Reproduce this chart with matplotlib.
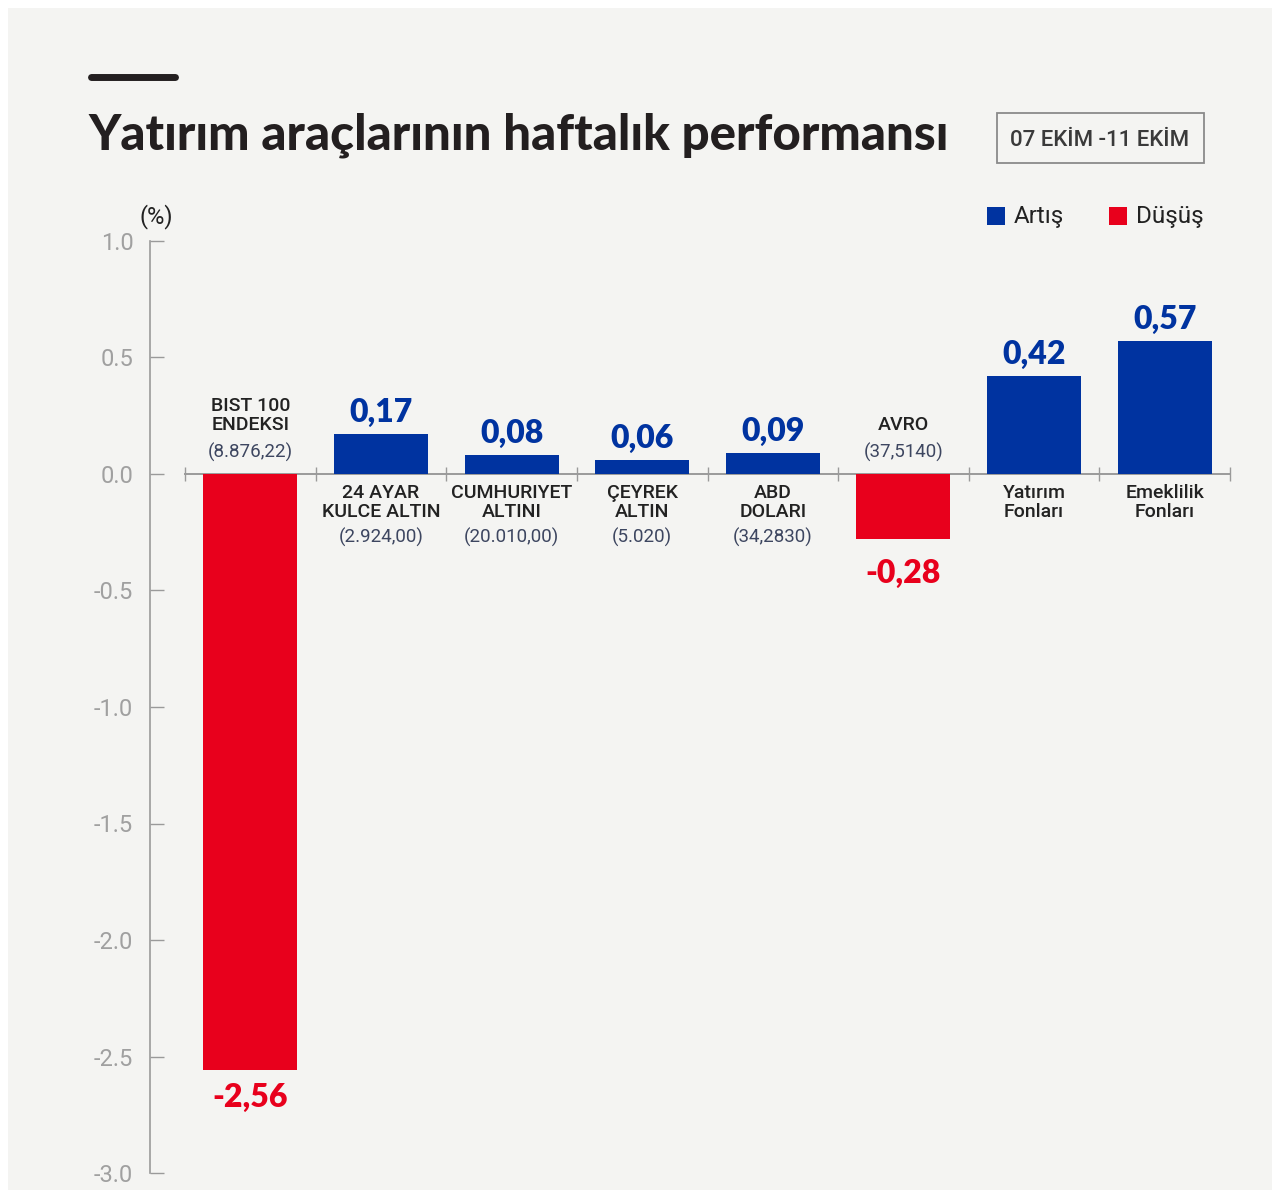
import numpy as np
import matplotlib.pyplot as plt
from matplotlib.patches import Rectangle
from matplotlib.lines import Line2D

# data
names = ["BIST 100\nENDEKSI", "24 AYAR\nKULCE ALTIN", "CUMHURIYET\nALTINI", "ÇEYREK\nALTIN",
         "ABD\nDOLARI", "AVRO", "Yatırım\nFonları", "Emeklilik\nFonları"]
prices = ["(8.876,22)", "(2.924,00)", "(20.010,00)", "(5.020)", "(34,2830)", "(37,5140)", "", ""]
changes = [-2.56, 0.17, 0.08, 0.06, 0.09, -0.28, 0.42, 0.57]
value_labels = ["-2,56", "0,17", "0,08", "0,06", "0,09", "-0,28", "0,42", "0,57"]
legend_labels = ["Artış", "Düşüş"]

BLUE = "#0033a0"
RED = "#e8001c"
GRAY = "#9a9a9a"
BG = "#f4f4f2"

W, H = 1280, 1192
fig = plt.figure(figsize=(W / 100, H / 100), dpi=100, facecolor="white")
fig.patches.append(Rectangle((8 / W, 2 / H), 1264 / W, 1182 / H, transform=fig.transFigure,
                             facecolor=BG, edgecolor="none", zorder=-10))

def fx(px):
    return px / W

def fy(py):
    return 1 - py / H

# black line on top
fig.add_artist(Line2D([fx(91), fx(175)], [fy(77), fy(77)], color="#231f20", lw=5,
                      solid_capstyle="round", transform=fig.transFigure))

fig.text(fx(88), fy(135), "Yatırım araçlarının haftalık performansı", family="Lato",
         weight="black", fontsize=35.5, color="#231f20", va="center", ha="left")

# date box
fig.patches.append(Rectangle((fx(997), fy(163)), 207 / W, 50 / H, transform=fig.transFigure,
                             facecolor="none", edgecolor="#8a8a8a", lw=1.3))
fig.text(fx(1100), fy(141), "07 EKİM -11 EKİM", family="Roboto", weight="medium",
         fontsize=16, color="#3a3a3a", ha="center", va="center")

# legend
for lx, c, lab in zip([987, 1109], [BLUE, RED], legend_labels):
    fig.patches.append(Rectangle((fx(lx), fy(225)), 18 / W, 18 / H, transform=fig.transFigure,
                                 facecolor=c, edgecolor="none"))
    fig.text(fx(lx + 27), fy(217), lab, family="Roboto", fontsize=17.5, color="#222222",
             ha="left", va="center")

fig.text(fx(156), fy(217), "(%)", family="Roboto", fontsize=17, color="#222222",
         ha="center", va="center")

ax = fig.add_axes([fx(150), fy(1173), (1230 - 150) / W, (1173 - 241) / H])
ax.set_facecolor("none")
x = np.arange(len(changes))
colors = [BLUE if v >= 0 else RED for v in changes]
ax.bar(x, changes, width=0.72, color=colors, zorder=3)

ax.set_xlim(-0.768, 7.5)
ax.set_ylim(-3.0, 1.0)

for s in ["top", "right"]:
    ax.spines[s].set_visible(False)
ax.spines["left"].set_color(GRAY)
ax.spines["left"].set_linewidth(1.2)
ax.spines["bottom"].set_position(("data", 0))
ax.spines["bottom"].set_bounds(-0.5, 7.5)
ax.spines["bottom"].set_color(GRAY)
ax.spines["bottom"].set_linewidth(1.4)

ax.set_xticks(np.arange(-0.5, 8, 1))
ax.set_xticklabels([])
ax.tick_params(axis="x", direction="inout", length=10, color=GRAY, width=1)
ax.set_yticks(np.arange(-3.0, 1.01, 0.5))
ax.set_yticklabels([f"{t:.1f}" for t in np.arange(-3.0, 1.01, 0.5)])
ax.tick_params(axis="y", direction="in", length=10, color=GRAY, width=1, pad=12,
               labelsize=17, labelcolor="#a0a0a0")
for t in ax.get_yticklabels():
    t.set_family("Roboto")

neg_offset = {0: -12, 5: -20}
for i, v in enumerate(changes):
    c = BLUE if v >= 0 else RED
    if v >= 0:
        ax.annotate(value_labels[i], (i, v), xytext=(0, 7), textcoords="offset pixels",
                    ha="center", va="bottom", family="Lato", weight="heavy", fontsize=23, color=c)
        ax.annotate(names[i], (i, 0), xytext=(0, -10), textcoords="offset pixels",
                    ha="center", va="top", family="Roboto", weight="medium", fontsize=14,
                    color="#222222", linespacing=1.1)
        if prices[i]:
            ax.annotate(prices[i], (i, 0), xytext=(0, -63), textcoords="offset pixels",
                        ha="center", va="center", family="Roboto", fontsize=13.5,
                        color="#3d4660")
    else:
        ax.annotate(value_labels[i], (i, v), xytext=(0, neg_offset[i]), textcoords="offset pixels",
                    ha="center", va="top", family="Lato", weight="heavy", fontsize=23, color=c)
        ax.annotate(prices[i], (i, 0), xytext=(0, 22), textcoords="offset pixels",
                    ha="center", va="center", family="Roboto", fontsize=13.5, color="#3d4660")
        ax.annotate(names[i], (i, 0), xytext=(0, 40), textcoords="offset pixels",
                    ha="center", va="bottom", family="Roboto", weight="medium", fontsize=14,
                    color="#222222", linespacing=1.1)

fig.savefig("out.png", dpi=100, facecolor="white")
